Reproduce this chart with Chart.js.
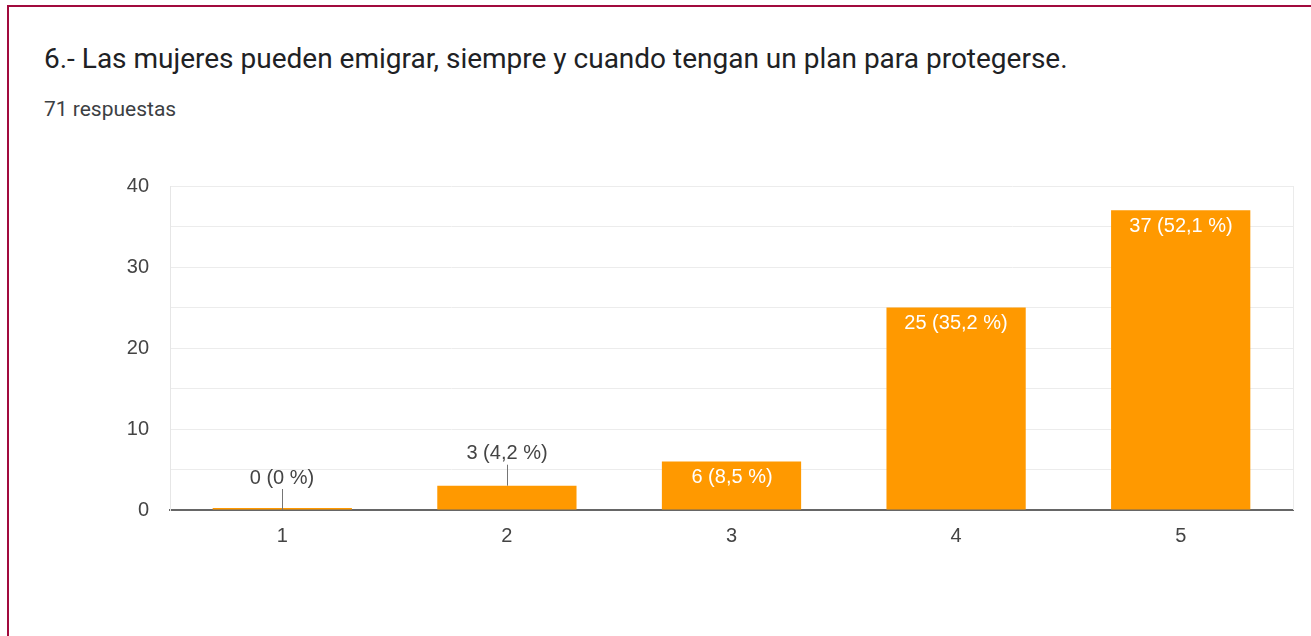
<!DOCTYPE html>
<html>
<head>
<meta charset="utf-8">
<script src="https://cdn.jsdelivr.net/npm/chart.js@4/dist/chart.umd.min.js"></script>
<style>
  html, body { margin: 0; padding: 0; background: #fff; width: 1311px; height: 636px; overflow: hidden; }
  #frame { position: absolute; left: 7px; top: 5px; width: 1320px; height: 700px; border-left: 2px solid #a10a3d; border-top: 2px solid #a10a3d; }
  #title { position: absolute; left: 44px; top: 45px; font-family: Roboto, "Noto Sans", sans-serif; font-size: 28px; line-height: 28px; color: #202124; white-space: nowrap; }
  #sub { position: absolute; left: 44px; top: 99px; font-family: Roboto, "Noto Sans", sans-serif; font-size: 21px; line-height: 21px; color: #3c4043; white-space: nowrap; }
  #c { position: absolute; left: 0; top: 150px; }
</style>
</head>
<body>
<div id="frame"></div>
<div id="title">6.- Las mujeres pueden emigrar, siempre y cuando tengan un plan para protegerse.</div>
<div id="sub">71 respuestas</div>
<canvas id="c" width="1311" height="400"></canvas>
<script>
const categories = ['1', '2', '3', '4', '5'];
const counts = [0, 3, 6, 25, 37];
const percents = ['0', '4,2', '8,5', '35,2', '52,1'];
const yTicks = [0, 10, 20, 30, 40];

const FONT = '"Liberation Sans", Arial, sans-serif';

const labelPlugin = {
  id: 'barLabels',
  afterDraw(chart) {
    const ctx = chart.ctx;
    const meta = chart.getDatasetMeta(0);
    const area = chart.chartArea;
    ctx.save();
    ctx.strokeStyle = '#ebebeb';
    ctx.lineWidth = 1;
    ctx.beginPath();
    ctx.moveTo(Math.round(area.right) + 0.5, area.top);
    ctx.lineTo(Math.round(area.right) + 0.5, area.bottom);
    ctx.stroke();

    ctx.font = '20px ' + FONT;
    ctx.textAlign = 'center';
    ctx.textBaseline = 'middle';
    meta.data.forEach((bar, i) => {
      const text = counts[i] + ' (' + percents[i] + ' %)';
      const base = chart.scales.y.getPixelForValue(0);
      const top = chart.scales.y.getPixelForValue(counts[i]);
      const h = base - top;
      const x = Math.round(bar.x);
      if (h > 30) {
        ctx.fillStyle = '#ffffff';
        ctx.fillText(text, x, top + 16);
      } else {
        ctx.strokeStyle = '#757575';
        ctx.lineWidth = 1;
        ctx.beginPath();
        ctx.moveTo(x + 0.5, top - 21);
        ctx.lineTo(x + 0.5, top);
        ctx.stroke();
        ctx.fillStyle = '#444444';
        ctx.fillText(text, x, top - 32);
      }
    });
    ctx.restore();
  }
};

new Chart(document.getElementById('c'), {
  type: 'bar',
  data: {
    labels: categories,
    datasets: [{
      data: counts,
      backgroundColor: '#ff9900',
      borderWidth: 0,
      barPercentage: 0.62,
      categoryPercentage: 1.0,
      minBarLength: 2
    }]
  },
  options: {
    responsive: false,
    animation: false,
    events: [],
    layout: { padding: { left: 0, right: 18, top: 36, bottom: 0 } },
    plugins: { legend: { display: false }, tooltip: { enabled: false }, title: { display: false } },
    scales: {
      x: {
        z: 1,
        grid: { display: false },
        border: { display: true, color: '#666666', width: 2 },
        ticks: { color: '#444444', font: { family: FONT, size: 20 }, padding: 6 },
        afterFit(scale) { scale.height = 40; }
      },
      y: {
        min: 0,
        max: 40,
        afterBuildTicks(scale) {
          const t = [];
          for (let v = 0; v <= 40; v += 5) t.push({ value: v });
          scale.ticks = t;
        },
        grid: {
          color: (c) => (c.tick && c.tick.value === 0) ? 'rgba(0,0,0,0)' : '#ececec',
          lineWidth: 1,
          drawTicks: false
        },
        border: { display: true, color: '#e6e6e6', width: 1 },
        ticks: {
          autoSkip: false,
          color: '#444444',
          font: { family: FONT, size: 20 },
          padding: 21,
          callback: (v) => yTicks.includes(v) ? String(v) : ''
        },
        afterFit(scale) { scale.width = 170; }
      }
    }
  },
  plugins: [labelPlugin]
});
</script>
</body>
</html>
